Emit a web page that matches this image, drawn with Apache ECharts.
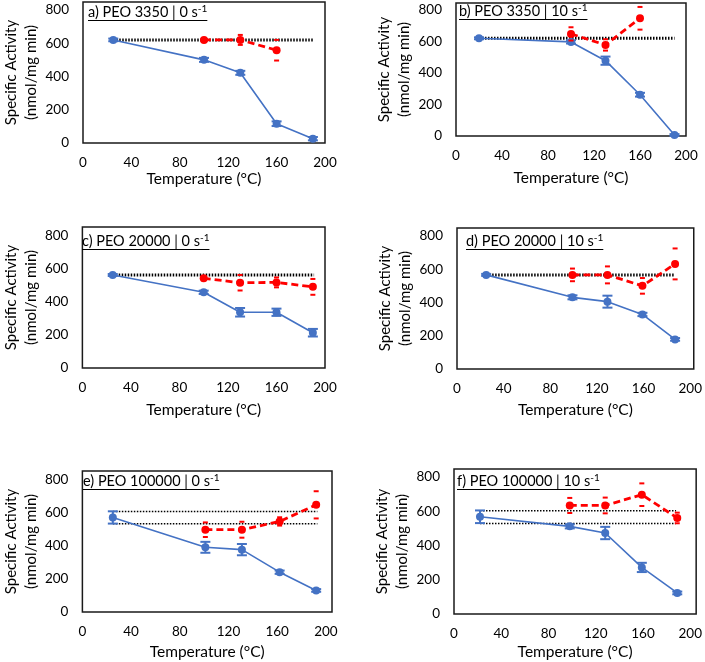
<!DOCTYPE html>
<html><head><meta charset="utf-8">
<script src="https://cdn.jsdelivr.net/npm/echarts@6/dist/echarts.min.js"></script>
<style>html,body{margin:0;padding:0;background:#fff}#c{width:705px;height:662px}</style>
</head><body><div id="c"></div>
<script>
// ---------- DATA ----------
const xTicks = [0, 40, 80, 120, 160, 200];
const yTicks = [0, 200, 400, 600, 800];

// a) PEO 3350 | 0 s-1
const tempsA = [25, 100, 130, 160, 190];
const blueA = [620, 500, 422, 116, 26];
const blueErrA = [8, 12, 12, 14, 10];
const redTempsA = [100, 130, 160];
const redA = [620, 620, 558];
const redErrA = [8, 30, 62];
const ctrlA = [620];
const ctrlSpanA = [25, 190];

// b) PEO 3350 | 10 s-1
const tempsB = [20, 100, 130, 160, 190];
const blueB = [620, 597, 478, 262, 6];
const blueErrB = [6, 10, 26, 12, 6];
const redTempsB = [100, 130, 160];
const redB = [648, 578, 747];
const redErrB = [42, 36, 72];
const ctrlB = [620];
const ctrlSpanB = [20, 190];

// c) PEO 20000 | 0 s-1
const tempsC = [25, 100, 130, 160, 190];
const blueC = [564, 459, 338, 338, 214];
const blueErrC = [6, 10, 26, 22, 23];
const redTempsC = [100, 130, 160, 190];
const redC = [544, 517, 519, 492];
const redErrC = [12, 47, 30, 48];
const ctrlC = [564];
const ctrlSpanC = [25, 191];

// d) PEO 20000 | 10 s-1
const tempsD = [25, 99, 129, 159, 187];
const blueD = [566, 431, 405, 328, 178];
const blueErrD = [6, 12, 36, 10, 8];
const redTempsD = [99, 129, 159, 187];
const redD = [566, 566, 500, 632];
const redErrD = [38, 51, 47, 93];
const ctrlD = [566];
const ctrlSpanD = [25, 187];

// e) PEO 100000 | 0 s-1
const tempsE = [25, 101, 131, 162, 192];
const blueE = [570, 390, 376, 240, 130];
const blueErrE = [37, 33, 34, 10, 8];
const redTempsE = [101, 131, 162, 192];
const redE = [496, 496, 546, 646];
const redErrE = [44, 48, 25, 82];
const ctrlE = [532, 606];
const ctrlSpanE = [25, 193];

// f) PEO 100000 | 10 s-1
const tempsF = [22, 98, 128, 159, 189];
const blueF = [568, 512, 473, 272, 123];
const blueErrF = [37, 12, 36, 27, 8];
const redTempsF = [98, 128, 159, 189];
const redF = [634, 634, 697, 561];
const redErrF = [44, 46, 66, 31];
const ctrlF = [529, 603];
const ctrlSpanF = [22, 188];

const panelLabels = ['a) PEO 3350 | 0 s', 'b) PEO 3350 | 10 s', 'c) PEO 20000 | 0 s',
                     'd) PEO 20000 | 10 s', 'e) PEO 100000 | 0 s', 'f) PEO 100000 | 10 s'];
const supText = '-1';
const xTitle = 'Temperature (°C)';
const yTitle = 'Specific Activity\n(nmol/mg min)';

// ---------- LAYOUT / STYLE ----------
const FONT = 'Lato';
const BLUE = '#4472C4';
const RED = '#FF0000';
const LABF = 14.5, SUPF = 10;
const panels = [
  {t: tempsA, b: blueA, be: blueErrA, rt: redTempsA, r: redA, re: redErrA, c: ctrlA, cs: ctrlSpanA,
   grid: {left: 83, top: 2, width: 242, height: 141}, xmax: 200, ymax: 848, xGap: 27, yGap: 40, dot: 'thick', lab: [88, 13]},
  {t: tempsB, b: blueB, be: blueErrB, rt: redTempsB, r: redB, re: redErrB, c: ctrlB, cs: ctrlSpanB,
   grid: {left: 456, top: 3, width: 230, height: 133}, xmax: 200, ymax: 844, xGap: 34, yGap: 40, dot: 'thick', lab: [459, 12]},
  {t: tempsC, b: blueC, be: blueErrC, rt: redTempsC, r: redC, re: redErrC, c: ctrlC, cs: ctrlSpanC,
   grid: {left: 78, top: 227, width: 247, height: 141}, xmax: 200, ymax: 855, xGap: 34, yGap: 38, dot: 'thick', lab: [82, 242]},
  {t: tempsD, b: blueD, be: blueErrD, rt: redTempsD, r: redD, re: redErrD, c: ctrlD, cs: ctrlSpanD,
   grid: {left: 457, top: 228, width: 243, height: 141}, xmax: 203, ymax: 848, xGap: 33, yGap: 41, dot: 'thick', lab: [466, 242]},
  {t: tempsE, b: blueE, be: blueErrE, rt: redTempsE, r: redE, re: redErrE, c: ctrlE, cs: ctrlSpanE,
   grid: {left: 80, top: 471, width: 252, height: 141}, xmax: 205, ymax: 850, xGap: 32, yGap: 39, dot: 'thin', lab: [83, 482]},
  {t: tempsF, b: blueF, be: blueErrF, rt: redTempsF, r: redF, re: redErrF, c: ctrlF, cs: ctrlSpanF,
   grid: {left: 454, top: 469, width: 248, height: 145}, xmax: 205, ymax: 847, xGap: 30, yGap: 39, dot: 'thin', lab: [457, 482]}
];

function errRender(capW, color, lw, stem) {
  return function (params, api) {
    const x = api.value(0), y = api.value(1), e = api.value(2);
    const top = api.coord([x, y + e]);
    const bot = api.coord([x, y - e]);
    const hw = capW / 2;
    const st = {stroke: color, lineWidth: lw};
    const ch = [];
    if (stem) ch.push({type: 'line', shape: {x1: top[0], y1: top[1], x2: bot[0], y2: bot[1]}, style: st});
    ch.push({type: 'line', shape: {x1: top[0] - hw, y1: top[1], x2: top[0] + hw, y2: top[1]}, style: st});
    ch.push({type: 'line', shape: {x1: bot[0] - hw, y1: bot[1], x2: bot[0] + hw, y2: bot[1]}, style: st});
    return {type: 'group', children: ch};
  };
}

const grids = [], xAxes = [], yAxes = [], series = [], graphics = [];
const mctx = document.createElement('canvas').getContext('2d');
function textW(s, size) { mctx.font = size + 'px ' + FONT; return mctx.measureText(s).width; }

panels.forEach((p, i) => {
  grids.push(Object.assign({show: true, borderColor: '#1a1a1a', borderWidth: 1.5, containLabel: false}, p.grid));
  xAxes.push({
    type: 'value', gridIndex: i, min: xTicks[0], max: p.xmax, interval: xTicks[1] - xTicks[0],
    axisLine: {show: false}, axisTick: {show: false}, splitLine: {show: false},
    axisLabel: {color: '#000', fontFamily: FONT, fontSize: 13.5, margin: 13,
      formatter: v => xTicks.indexOf(v) >= 0 ? String(v) : ''},
    name: xTitle, nameLocation: 'middle', nameGap: p.xGap,
    nameTextStyle: {color: '#000', fontFamily: FONT, fontSize: 15.5}
  });
  yAxes.push({
    type: 'value', gridIndex: i, min: yTicks[0], max: p.ymax, interval: yTicks[1] - yTicks[0],
    axisLine: {show: false}, axisTick: {show: false}, splitLine: {show: false},
    axisLabel: {color: '#000', fontFamily: FONT, fontSize: 13.5, margin: 14,
      formatter: v => yTicks.indexOf(v) >= 0 ? String(v) : ''},
    name: yTitle, nameLocation: 'middle', nameGap: p.yGap,
    nameTextStyle: {color: '#000', fontFamily: FONT, fontSize: 15, lineHeight: 20}
  });
  // control dotted line(s)
  p.c.forEach(v => {
    series.push({
      type: 'line', xAxisIndex: i, yAxisIndex: i, data: [[p.cs[0], v], [p.cs[1], v]],
      showSymbol: false, silent: true, z: 2, animation: false,
      lineStyle: p.dot === 'thick' ? {color: '#000', width: 3, type: [1.5, 1.5]} : {color: '#000', width: 1.5, type: [1.5, 1.5]}
    });
  });
  // blue series
  series.push({
    type: 'line', xAxisIndex: i, yAxisIndex: i, data: p.t.map((x, k) => [x, p.b[k]]),
    symbol: 'circle', symbolSize: 8, z: 3, animation: false,
    itemStyle: {color: BLUE}, lineStyle: {color: BLUE, width: 1.6}
  });
  series.push({
    type: 'custom', xAxisIndex: i, yAxisIndex: i, z: 3, animation: false,
    data: p.t.map((x, k) => [x, p.b[k], p.be[k]]), encode: {x: 0, y: 1},
    renderItem: errRender(10, BLUE, 2, true)
  });
  // red series
  series.push({
    type: 'line', xAxisIndex: i, yAxisIndex: i, data: p.rt.map((x, k) => [x, p.r[k]]),
    symbol: 'circle', symbolSize: 8, z: 4, animation: false,
    itemStyle: {color: RED}, lineStyle: {color: RED, width: 2.8, type: [7, 4]}
  });
  series.push({
    type: 'custom', xAxisIndex: i, yAxisIndex: i, z: 4, animation: false,
    data: p.rt.map((x, k) => [x, p.r[k], p.re[k]]), encode: {x: 0, y: 1},
    renderItem: errRender(5, RED, 2, false)
  });
  // panel label with underline
  const w = textW(panelLabels[i], LABF) + textW(supText, SUPF);
  graphics.push({
    type: 'text', left: p.lab[0], top: p.lab[1] - 9, z: 10,
    style: {
      text: '{a|' + panelLabels[i] + '}{s|' + supText + '}',
      rich: {a: {fontFamily: FONT, fontSize: LABF, lineHeight: 17, fill: '#000'},
             s: {fontFamily: FONT, fontSize: SUPF, lineHeight: 11, verticalAlign: 'top', fill: '#000'}}
    }
  });
  graphics.push({
    type: 'rect', left: p.lab[0], top: p.lab[1] + 7, z: 10,
    shape: {width: w, height: 1}, style: {fill: '#000'}
  });
});

const chart = echarts.init(document.getElementById('c'), null, {renderer: 'canvas'});
chart.setOption({
  animation: false, backgroundColor: '#fff',
  grid: grids, xAxis: xAxes, yAxis: yAxes, series: series, graphic: graphics
});
</script></body></html>
